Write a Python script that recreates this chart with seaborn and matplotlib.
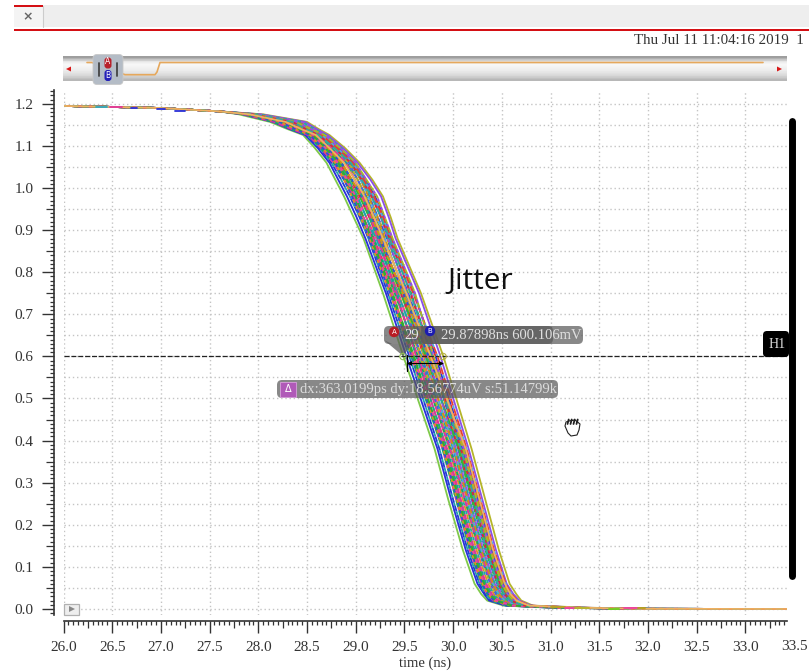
import numpy as np
import pandas as pd
import matplotlib
matplotlib.use("Agg")
import matplotlib.pyplot as plt
import seaborn as sns
from matplotlib.patches import FancyBboxPatch, Rectangle, Circle, Polygon
from matplotlib.ticker import MultipleLocator, FixedLocator

sns.set_style("white")
plt.rcParams["font.family"] = ["Liberation Serif", "DejaVu Serif"]

# ---------------------------------
# DATA (inner traces are estimates by eye)
# ---------------------------------

head_time = [26.0, 27.0, 27.6]
head_volt = [1.195, 1.19, 1.182]

volt_levels = [1.175, 1.157, 1.126, 1.06, 0.98, 0.88, 0.75, 0.60, 0.38, 0.26, 0.14, 0.06, 0.02, 0.008, 0.003]

tail_time = [32.0, 33.43]
tail_volt = [0.0003, 0.0]

trace_a = [27.80, 28.12, 28.46, 28.70, 28.88, 29.08, 29.28, 29.49, 29.81, 29.95, 30.10, 30.22, 30.35, 30.52, 31.00]
trace_b = [27.84, 28.15, 28.48, 28.73, 28.91, 29.10, 29.31, 29.52, 29.84, 29.98, 30.13, 30.25, 30.37, 30.54, 31.03]
trace_c = [28.03, 28.48, 28.71, 29.02, 29.26, 29.41, 29.65, 29.87, 30.16, 30.30, 30.44, 30.55, 30.68, 30.80, 31.36]
trace_d = [28.05, 28.50, 28.73, 29.04, 29.28, 29.43, 29.67, 29.90, 30.19, 30.33, 30.47, 30.58, 30.70, 30.82, 31.40]
trace_e = [27.86, 28.17, 28.50, 28.75, 28.94, 29.13, 29.33, 29.55, 29.86, 30.00, 30.15, 30.27, 30.39, 30.55, 31.05]
trace_f = [27.98, 28.42, 28.67, 28.98, 29.20, 29.37, 29.60, 29.82, 30.12, 30.26, 30.40, 30.52, 30.64, 30.78, 31.30]
trace_g = [27.88, 28.20, 28.52, 28.78, 28.97, 29.15, 29.36, 29.57, 29.89, 30.03, 30.17, 30.29, 30.41, 30.57, 31.08]
trace_h = [27.96, 28.39, 28.64, 28.96, 29.17, 29.34, 29.57, 29.79, 30.09, 30.23, 30.37, 30.49, 30.62, 30.76, 31.26]
trace_i = [27.89, 28.23, 28.54, 28.80, 28.99, 29.17, 29.38, 29.60, 29.91, 30.05, 30.19, 30.31, 30.43, 30.58, 31.10]
trace_j = [27.94, 28.36, 28.62, 28.94, 29.14, 29.32, 29.54, 29.76, 30.07, 30.21, 30.35, 30.47, 30.60, 30.74, 31.22]
trace_k = [27.90, 28.26, 28.56, 28.83, 29.02, 29.19, 29.41, 29.63, 29.93, 30.07, 30.21, 30.33, 30.45, 30.60, 31.12]
trace_l = [27.93, 28.33, 28.60, 28.91, 29.11, 29.29, 29.51, 29.73, 30.05, 30.19, 30.33, 30.45, 30.58, 30.72, 31.20]
trace_m = [27.91, 28.29, 28.58, 28.86, 29.05, 29.22, 29.44, 29.66, 29.96, 30.10, 30.24, 30.36, 30.48, 30.63, 31.14]
trace_n = [27.92, 28.31, 28.59, 28.89, 29.08, 29.26, 29.48, 29.70, 30.02, 30.16, 30.30, 30.42, 30.55, 30.70, 31.18]
trace_o = [27.87, 28.19, 28.53, 28.81, 29.01, 29.21, 29.43, 29.68, 30.00, 30.14, 30.28, 30.39, 30.51, 30.66, 31.16]
trace_p = [27.97, 28.40, 28.63, 28.93, 29.10, 29.27, 29.47, 29.67, 29.98, 30.12, 30.26, 30.38, 30.50, 30.65, 31.15]
trace_q = [27.85, 28.16, 28.51, 28.77, 28.98, 29.18, 29.40, 29.64, 29.97, 30.12, 30.27, 30.40, 30.53, 30.68, 31.17]
trace_r = [27.99, 28.44, 28.66, 28.96, 29.13, 29.30, 29.50, 29.71, 30.01, 30.15, 30.29, 30.41, 30.53, 30.67, 31.19]
trace_s = [27.89, 28.25, 28.55, 28.84, 29.04, 29.24, 29.46, 29.72, 30.06, 30.20, 30.36, 30.48, 30.61, 30.75, 31.24]
trace_t = [28.00, 28.45, 28.69, 28.99, 29.18, 29.33, 29.53, 29.74, 30.03, 30.17, 30.31, 30.43, 30.56, 30.71, 31.21]
trace_u = [27.92, 28.30, 28.57, 28.85, 29.06, 29.25, 29.49, 29.75, 30.10, 30.25, 30.39, 30.51, 30.63, 30.77, 31.28]
trace_v = [27.95, 28.37, 28.61, 28.90, 29.07, 29.23, 29.42, 29.62, 29.94, 30.08, 30.22, 30.34, 30.46, 30.61, 31.13]
trace_w = [27.93, 28.34, 28.65, 28.97, 29.19, 29.36, 29.59, 29.84, 30.14, 30.28, 30.42, 30.54, 30.66, 30.79, 31.32]
trace_x = [27.88, 28.22, 28.53, 28.79, 28.96, 29.14, 29.35, 29.58, 29.90, 30.04, 30.18, 30.30, 30.42, 30.59, 31.09]
trace_y = [27.96, 28.38, 28.68, 29.00, 29.22, 29.38, 29.61, 29.80, 30.11, 30.24, 30.38, 30.50, 30.62, 30.76, 31.27]
trace_z = [27.90, 28.27, 28.56, 28.82, 29.00, 29.16, 29.37, 29.59, 29.92, 30.06, 30.20, 30.32, 30.44, 30.60, 31.11]
trace_aa = [27.94, 28.35, 28.62, 28.95, 29.16, 29.35, 29.56, 29.78, 30.08, 30.22, 30.34, 30.46, 30.59, 30.73, 31.23]
trace_ab = [27.91, 28.28, 28.59, 28.88, 29.09, 29.28, 29.52, 29.77, 30.13, 30.27, 30.41, 30.53, 30.65, 30.78, 31.31]

traces = [trace_a, trace_d, trace_b, trace_c, trace_e, trace_f, trace_g, trace_h, trace_i, trace_j,
          trace_k, trace_l, trace_m, trace_n, trace_o, trace_p, trace_q, trace_r, trace_s, trace_t,
          trace_u, trace_v, trace_w, trace_x, trace_y, trace_z, trace_aa, trace_ab]

# extra readings around the knees, one per trace, same order as traces
knee_levels = [1.14, 1.095, 1.02, 0.93, 0.035]
knee_114 = [28.30, 28.62, 28.32, 28.60, 28.34, 28.55, 28.37, 28.52, 28.39, 28.50, 28.42, 28.47, 28.44, 28.46,
            28.37, 28.52, 28.34, 28.56, 28.41, 28.58, 28.44, 28.50, 28.50, 28.38, 28.54, 28.42, 28.49, 28.44]
knee_1095 = [28.58, 28.89, 28.61, 28.87, 28.63, 28.83, 28.65, 28.80, 28.67, 28.78, 28.70, 28.75, 28.72, 28.74,
             28.67, 28.78, 28.64, 28.81, 28.70, 28.85, 28.71, 28.75, 28.81, 28.66, 28.84, 28.69, 28.78, 28.73]
knee_102 = [28.79, 29.17, 28.82, 29.15, 28.85, 29.10, 28.88, 29.07, 28.90, 29.05, 28.93, 29.02, 28.96, 28.99,
            28.92, 29.02, 28.88, 29.05, 28.95, 29.09, 28.96, 28.99, 29.08, 28.88, 29.11, 28.91, 29.06, 28.99]
knee_093 = [28.98, 29.36, 29.01, 29.34, 29.04, 29.29, 29.06, 29.26, 29.08, 29.23, 29.11, 29.20, 29.14, 29.17,
            29.11, 29.19, 29.08, 29.22, 29.14, 29.26, 29.16, 29.15, 29.28, 29.05, 29.30, 29.08, 29.26, 29.19]
knee_0035 = [30.29, 30.65, 30.32, 30.62, 30.33, 30.59, 30.35, 30.56, 30.37, 30.54, 30.39, 30.52, 30.42, 30.49,
             30.45, 30.44, 30.47, 30.47, 30.55, 30.50, 30.57, 30.40, 30.60, 30.36, 30.56, 30.38, 30.53, 30.59]
knees = [knee_114, knee_1095, knee_102, knee_093, knee_0035]

trace_colors = ["#7fc94a", "#b5b52a", "#2a2fd8", "#8a4fe8", "#1f3fd0", "#d8283c", "#18a860", "#e0359a",
                "#2fb02f", "#c9a010", "#25a7a0", "#4a5fe0", "#e09020", "#d8283c", "#20a0b0", "#b8b020",
                "#e0359a", "#4fa8e0", "#33b833", "#9a50e0", "#d09018", "#1f9f90", "#e8402f", "#3050d8",
                "#a8b828", "#f040a0", "#30a8a0", "#efb060"]

# second colour of the broken up inner traces
gap_colors = ["#7fc94a", "#b5b52a", "#2a2fd8", "#8a4fe8", "#20a0b0", "#2a2fd8", "#e0359a", "#18a860",
              "#e09020", "#3050d8", "#e8402f", "#33b833", "#25a7a0", "#c9a010", "#f040a0", "#4a5fe0",
              "#18a860", "#d09018", "#d8283c", "#25a7a0", "#3050d8", "#e0359a", "#4fa8e0", "#e09020",
              "#9a50e0", "#2fb02f", "#d8283c", "#efb060"]

# short coloured bits where a trace shows past the top one on the flat parts
stub_start = [26.33, 26.48, 26.69, 26.96, 27.14, 31.00, 31.15, 31.25, 31.60, 31.75, 31.90]
stub_end = [26.45, 26.60, 26.75, 27.04, 27.25, 31.15, 31.25, 31.40, 31.70, 31.90, 31.97]
stub_volt = [1.1925, 1.1925, 1.190, 1.187, 1.184, 0.004, 0.003, 0.003, 0.001, 0.002, 0.002]
stub_colors = ["#2fa8c0", "#e0359a", "#2a2fd8", "#2a2fd8", "#2a2fd8", "#b5a020", "#f040a0", "#b5b52a", "#70d020", "#f040a0", "#b5a020"]

y_ticks = [0.0, 0.1, 0.2, 0.3, 0.4, 0.5, 0.6, 0.7, 0.8, 0.9, 1.0, 1.1, 1.2]
x_ticks = [26.0, 26.5, 27.0, 27.5, 28.0, 28.5, 29.0, 29.5, 30.0, 30.5, 31.0, 31.5, 32.0, 32.5, 33.0]

overview_time = [87, 92, 125, 155, 157, 160, 763]
overview_level = [62.5, 62.5, 74.7, 74.7, 72, 62.5, 62.5]

rows = []
for i, trace in enumerate(traces):
    pairs = list(zip(trace, volt_levels)) + [(k[i], lv) for k, lv in zip(knees, knee_levels)]
    pairs = sorted(pairs, key=lambda p: -p[1])
    times = head_time + [p[0] for p in pairs] + tail_time
    volts = head_volt + [p[1] for p in pairs] + tail_volt
    for t, v in zip(times, volts):
        rows.append({"trace": "t" + str(i), "time": t, "volt": v})
df = pd.DataFrame(rows)

stub_rows = []
for i in range(len(stub_start)):
    stub_rows.append({"stub": "s" + str(i), "time": stub_start[i], "volt": stub_volt[i]})
    stub_rows.append({"stub": "s" + str(i), "time": stub_end[i], "volt": stub_volt[i]})
stub_df = pd.DataFrame(stub_rows)

# ---------------------------------
# FIGURE AND AXES
# ---------------------------------

W = 809
H = 671
fig = plt.figure(figsize=(W / 100, H / 100), dpi=100, facecolor="white")

ax_left, ax_right, ax_top, ax_bottom = 63.5, 787, 90, 615
ax = fig.add_axes([ax_left / W, 1 - ax_bottom / H, (ax_right - ax_left) / W, (ax_bottom - ax_top) / H])

sns.lineplot(
    data=df, x="time", y="volt", hue="trace", palette=trace_colors,
    estimator=None, sort=False, legend=False, linewidth=1.3, ax=ax
)

# inner traces get two colours so the band looks like the dense plot
dash_styles = [(0, (3, 2)), (1, (2, 3)), (2, (4, 2)), (0, (2, 2))]
trace_lines = list(ax.get_lines())
for i, line in enumerate(trace_lines):
    line.set_solid_joinstyle("round")
    if 4 <= i < len(trace_lines) - 1:
        line.set_linestyle(dash_styles[i % 4])
        line.set_gapcolor(gap_colors[i])

sns.lineplot(
    data=stub_df, x="time", y="volt", hue="stub", palette=stub_colors,
    estimator=None, sort=False, legend=False, linewidth=1.3, ax=ax
)

ax.set_xlim(26.0, 33.428)
ax.set_ylim(-0.0143, 1.2328)

for s in ["top", "right"]:
    ax.spines[s].set_visible(False)
ax.spines["left"].set_position(("outward", 6.5))
ax.spines["bottom"].set_position(("outward", 4.5))
ax.spines["left"].set_linewidth(1.2)
ax.spines["bottom"].set_linewidth(1.2)
ax.spines["left"].set_color("#333333")
ax.spines["bottom"].set_color("#333333")

ax.xaxis.set_major_locator(FixedLocator(x_ticks))
ax.yaxis.set_major_locator(FixedLocator(y_ticks))
ax.xaxis.set_minor_locator(MultipleLocator(0.05))
ax.yaxis.set_minor_locator(MultipleLocator(0.01))
ax.set_xticklabels(["%.1f" % t for t in x_ticks], fontsize=11, color="#333333")
ax.set_yticklabels(["%.1f" % t for t in y_ticks], fontsize=11, color="#333333")
ax.tick_params(axis="x", which="major", length=8.5, width=1.0, color="#333333", pad=5.5, bottom=True)
ax.tick_params(axis="y", which="major", length=9, width=1.0, color="#333333", pad=6, left=True)
ax.tick_params(axis="both", which="minor", length=3, width=0.9, color="#333333", bottom=True, left=True)

# the ruler has a longer tick half way between the labelled ones
for tick, loc in zip(ax.xaxis.get_minor_ticks(), ax.xaxis.get_minorticklocs()):
    if abs(loc * 4 - round(loc * 4)) < 1e-6:
        tick.tick1line.set_markersize(5)
for tick, loc in zip(ax.yaxis.get_minor_ticks(), ax.yaxis.get_minorticklocs()):
    if abs(loc * 20 - round(loc * 20)) < 1e-6:
        tick.tick1line.set_markersize(5.5)

ax.set_xlabel("time (ns)", fontsize=10.5, color="#333333", labelpad=2)
ax.set_ylabel("")

for t in x_ticks:
    ax.axvline(t, color="#c4c4c4", lw=1.0, ls=(0, (1, 2)), zorder=0)
for v in np.arange(0.0, 1.21, 0.05):
    ax.axhline(v, color="#c4c4c4", lw=1.0, ls=(0, (1, 2)), zorder=0)

ax.axhline(0.6, color="#222222", lw=0.9, ls=(0, (4, 1.5)), zorder=5)

# ---------------------------------
# WINDOW PARTS DRAWN OVER THE PLOT, IN PIXELS
# ---------------------------------

ui = fig.add_axes([0, 0, 1, 1], zorder=10)
ui.patch.set_alpha(0)
ui.axis("off")

grad = np.array([0.62, 0.78, 0.93, 0.97, 0.95, 0.93, 0.90, 0.86, 0.80, 0.72]).reshape(-1, 1)
ui.imshow(grad, extent=(63, 787, 81.5, 57), cmap="gray", vmin=0, vmax=1, aspect="auto", zorder=1)
ui.set_xlim(0, W)
ui.set_ylim(H, 0)

# last tick label, past the end of the ruler
ui.text(795, 646, "33.5", fontsize=11, color="#333333", ha="center", va="center", zorder=3)

# tab bar
ui.add_patch(Rectangle((14, 5), 795, 22, color="#eeeeee", lw=0, zorder=1))
ui.add_patch(Rectangle((14, 5), 29, 22, color="#f4f4f4", lw=0, zorder=1))
ui.add_patch(Rectangle((14, 5), 29, 1.6, color="#d40f14", lw=0, zorder=2))
ui.plot([43, 43], [6, 27], color="#cccccc", lw=0.8, zorder=2)
ui.add_patch(Rectangle((14, 28.8), 795, 2, color="#d40f14", lw=0, zorder=2))
ui.text(28, 16.5, "×", family="DejaVu Sans", fontsize=9, weight="bold", color="#666666", ha="center", va="center", zorder=3)
ui.text(804, 41, "Thu Jul 11 11:04:16 2019  1", fontsize=10.8, color="#333333", ha="right", va="center", zorder=3)

# overview strip
ui.plot(overview_time, overview_level, color="#e6a85c", lw=1.2, zorder=2)
ui.add_patch(Polygon([[66, 69], [71, 66.5], [71, 71.5]], color="#d81818", lw=0, zorder=3))
ui.add_patch(Polygon([[782, 69], [777, 66.5], [777, 71.5]], color="#d81818", lw=0, zorder=3))
ui.add_patch(FancyBboxPatch((95, 56.5), 26, 26, boxstyle="round,pad=2,rounding_size=4", fc="#b4bcc6", ec="#c8c8c8", lw=0.6, zorder=4))
ui.plot([99, 99], [63, 76], color="#444444", lw=1.3, zorder=5)
ui.plot([117, 117], [63, 76], color="#444444", lw=1.3, zorder=5)
ui.add_patch(FancyBboxPatch((105, 58), 6, 10, boxstyle="round,pad=0.5,rounding_size=3", fc="#b8202a", ec="none", zorder=5))
ui.add_patch(FancyBboxPatch((105, 70.5), 6, 10, boxstyle="round,pad=0.5,rounding_size=3", fc="#2420b8", ec="none", zorder=5))
ui.text(108, 61.5, "A", family="DejaVu Sans", fontsize=5.5, color="white", ha="center", va="center", zorder=6)
ui.text(108, 75, "B", family="DejaVu Sans", fontsize=5.5, color="white", ha="center", va="center", zorder=6)

# vertical bar and H1 label
ui.plot([792, 792], [121, 576], color="black", lw=5, solid_capstyle="round", zorder=3)
ui.add_patch(FancyBboxPatch((765, 333), 22, 22, boxstyle="round,pad=2,rounding_size=4", fc="black", ec="none", zorder=3))
ui.text(777, 344, "H1", fontsize=10, color="#dddddd", ha="center", va="center", zorder=4)

# marker labels
pill = "#5a5a5a"
ui.add_patch(Polygon([[384, 340], [392, 344], [412, 344], [403, 356]], fc=pill, ec="none", alpha=0.75, zorder=3))
ui.add_patch(FancyBboxPatch((386, 328), 165, 14, boxstyle="round,pad=2,rounding_size=5", fc=pill, ec="none", alpha=0.72, zorder=3))
ui.add_patch(FancyBboxPatch((423, 328), 158, 14, boxstyle="round,pad=2,rounding_size=5", fc=pill, ec="none", alpha=0.72, zorder=3))
ui.add_patch(Circle((394, 332), 5.2, fc="#b81c24", ec="none", zorder=4))
ui.add_patch(Circle((430, 331), 5.2, fc="#1c1cb0", ec="none", zorder=4))
ui.text(394, 332, "A", family="DejaVu Sans", fontsize=5, color="white", ha="center", va="center", zorder=5)
ui.text(430, 331, "B", family="DejaVu Sans", fontsize=5, color="white", ha="center", va="center", zorder=5)
ui.text(404, 335.5, "29", fontsize=10.5, color="#e8e8e8", ha="left", va="center", zorder=5)
ui.text(441, 335.5, "29.87898ns 600.106mV", fontsize=10.5, color="#e0e0e0", ha="left", va="center", zorder=5)

ui.add_patch(FancyBboxPatch((279, 382), 277, 14, boxstyle="round,pad=2,rounding_size=5", fc=pill, ec="none", alpha=0.72, zorder=3))
ui.add_patch(Rectangle((280, 381.5), 16, 15, fc="#b05ab8", ec="#d8a0dc", lw=0.6, zorder=4))
ui.text(288, 389, "Δ", family="DejaVu Sans", fontsize=7, color="white", ha="center", va="center", zorder=5)
ui.text(300, 389.5, "dx:363.0199ps dy:18.56774uV s:51.14799k", fontsize=10.5, color="#dddddd", ha="left", va="center", zorder=5)

# delta arrow and the two crossing markers
ui.add_patch(Circle((403, 356.5), 3.2, fc="none", ec="#8fbf50", lw=0.8, zorder=4))
ui.add_patch(Circle((443, 356.5), 3.2, fc="none", ec="#b5b040", lw=0.8, zorder=4))
ui.plot([407, 407], [355, 371], color="black", lw=0.9, zorder=5)
ui.annotate("", xy=(407, 363.5), xytext=(444, 363.5), arrowprops=dict(arrowstyle="<|-|>", color="black", lw=0.8, mutation_scale=6, shrinkA=0, shrinkB=0), zorder=5)

ui.text(447, 281, "Jitter", family="Open Sans", fontsize=21.5, color="#111111", ha="left", va="center", zorder=5)

# play button
ui.add_patch(Rectangle((64, 603.5), 15, 11, fc="#eeeeee", ec="#b0b0b0", lw=0.9, zorder=4))
ui.add_patch(Polygon([[69, 606], [69, 612], [75, 609]], color="#888888", lw=0, zorder=5))

# hand cursor, no installed font has this glyph
hand_palm = [[568, 433], [565, 426], [566, 422], [569, 421], [575, 420], [580, 424], [579, 430], [577, 435], [571, 436]]
ui.add_patch(Polygon(hand_palm, fc="white", ec="#222222", lw=0.8, zorder=5))
for fx in [567.5, 570.5, 573.5, 576.5]:
    ui.plot([fx, fx + 1.2], [424, 419.5], color="#222222", lw=1.3, solid_capstyle="round", zorder=6)

fig.savefig("out.png", dpi=100)
